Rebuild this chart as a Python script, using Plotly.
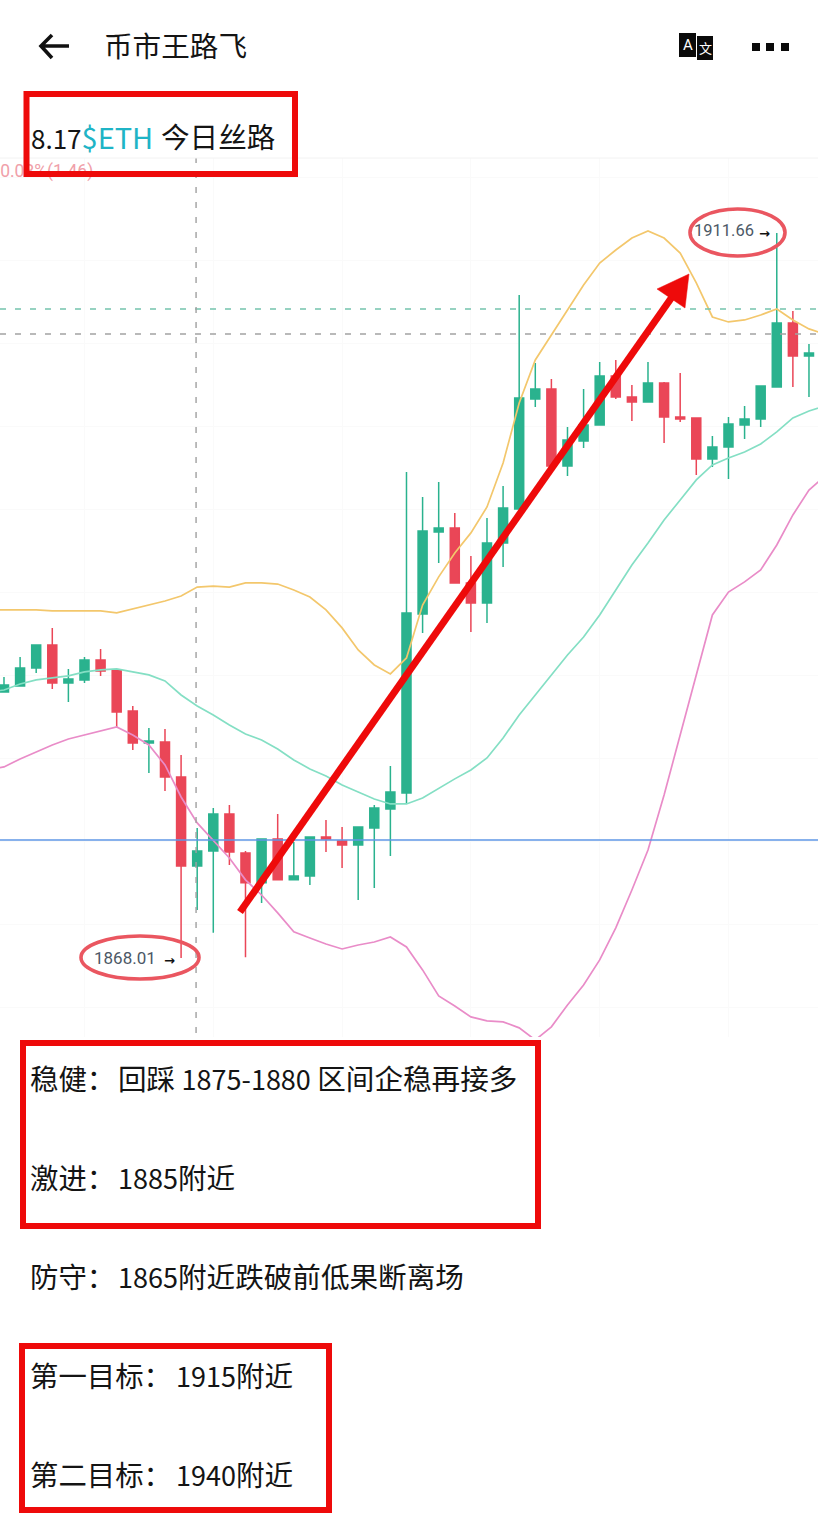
import re
import plotly.graph_objects as go

W, H = 828, 1525

# ---- data ----
opens = [1884.02,1884.38,1885.47,1886.85,1884.57,1884.75,1885.95,1885.35,1882.88,1880.95,1881.01,1878.91,1873.55,1874.45,1876.68,1874.33,1872.53,1875.17,1872.71,1872.95,1875.29,1875.05,1874.81,1875.84,1876.98,1877.94,1888.72,1893.66,1893.90,1890.59,1889.38,1892.99,1895.04,1901.66,1902.26,1897.63,1899.13,1900.10,1903.05,1901.78,1901.48,1902.63,1900.58,1900.52,1898.05,1898.77,1900.10,1900.46,1902.38,1906.24,1904.25]
closes = [1884.44,1885.47,1886.85,1884.57,1884.81,1885.95,1885.29,1882.82,1880.95,1881.07,1878.91,1873.55,1874.45,1876.68,1874.39,1872.53,1875.17,1872.71,1872.95,1875.29,1875.17,1874.81,1875.90,1877.04,1878.00,1888.78,1893.72,1893.90,1890.59,1889.38,1892.99,1895.10,1901.72,1902.26,1897.63,1899.19,1900.10,1903.05,1901.78,1901.48,1902.63,1900.58,1900.46,1898.05,1898.77,1900.16,1900.46,1902.44,1906.24,1904.25,1904.43]
highs = [1884.93,1886.13,1886.85,1887.88,1885.41,1886.13,1886.61,1885.35,1883.18,1881.86,1881.80,1880.23,1875.84,1877.04,1877.22,1874.45,1875.17,1876.68,1874.99,1875.29,1876.32,1875.90,1875.90,1877.22,1879.57,1897.27,1895.76,1896.67,1894.80,1892.21,1894.50,1896.42,1907.92,1903.83,1902.87,1899.98,1902.26,1903.89,1904.01,1902.50,1903.89,1902.69,1903.23,1900.52,1899.43,1900.58,1901.24,1902.44,1911.66,1906.96,1904.97]
lows = [1884.02,1884.38,1885.17,1884.20,1883.42,1884.57,1884.99,1881.92,1880.53,1879.15,1878.06,1868.01,1870.90,1869.52,1873.61,1868.05,1871.32,1872.71,1872.71,1872.40,1874.39,1873.43,1871.50,1872.22,1874.15,1877.34,1887.58,1891.79,1890.59,1887.64,1888.18,1891.55,1895.04,1901.18,1897.63,1897.03,1898.71,1900.10,1901.66,1900.34,1901.48,1899.01,1900.28,1897.09,1897.57,1896.85,1899.25,1899.98,1902.38,1902.38,1901.78]
candle_index = list(range(len(opens)))

band_index = list(range(-1, 52))
band_upper = [1888.96,1888.96,1888.96,1888.96,1888.90,1888.90,1888.90,1888.90,1888.78,1889.02,1889.26,1889.50,1889.80,1890.34,1890.40,1890.34,1890.59,1890.59,1890.52,1890.16,1889.74,1888.96,1887.88,1886.55,1885.65,1885.11,1886.07,1889.26,1890.95,1892.39,1893.60,1895.16,1897.81,1901.42,1904.01,1905.51,1907.08,1908.52,1909.85,1910.63,1911.35,1911.78,1911.35,1910.45,1908.65,1906.60,1906.30,1906.42,1906.72,1907.08,1906.42,1905.88,1905.57]
band_middle = [1884.02,1884.14,1884.50,1884.75,1884.87,1884.99,1885.23,1885.35,1885.41,1885.23,1885.05,1884.69,1883.84,1883.18,1882.64,1882.04,1881.49,1881.13,1880.59,1879.93,1879.39,1878.97,1878.42,1878.00,1877.58,1877.28,1877.28,1877.64,1878.24,1878.79,1879.33,1880.05,1881.25,1882.64,1883.84,1885.05,1886.25,1887.33,1888.66,1890.16,1891.67,1892.99,1894.38,1895.58,1896.79,1897.69,1898.11,1898.47,1898.95,1899.68,1900.52,1900.94,1901.24]
band_lower = [1879.33,1879.51,1879.99,1880.41,1880.83,1881.19,1881.43,1881.68,1881.92,1881.43,1880.83,1879.63,1877.70,1876.14,1875.11,1874.03,1872.71,1871.80,1870.72,1869.58,1869.21,1868.85,1868.55,1868.79,1868.97,1869.27,1868.67,1867.29,1865.72,1865.12,1864.46,1864.22,1864.16,1863.80,1863.07,1863.86,1865.18,1866.38,1867.89,1869.82,1872.10,1874.51,1877.82,1881.43,1885.05,1888.66,1890.04,1890.65,1891.37,1892.87,1894.68,1896.18,1897.03]

price_blue = 1875.11
price_green_dash = 1907.08
price_gray_dash = 1905.57
cursor_index = 11.93
low_label = "1868.01"
high_label = "1911.66"
change_label = "0.08%(1.46)"

GREEN, RED = "#2ab28e", "#ea4657"
BOX_RED = "#ee0a0a"
CJK = "Noto Sans CJK SC"

def px(x): return x / W
def py(y): return 1 - y / H

fig = go.Figure()

fig.add_trace(go.Candlestick(
    x=candle_index, open=opens, high=highs, low=lows, close=closes,
    whiskerwidth=0,
    increasing=dict(line=dict(color=GREEN, width=1.5), fillcolor=GREEN),
    decreasing=dict(line=dict(color=RED, width=1.5), fillcolor=RED),
    showlegend=False, hoverinfo="skip",
))
for vals, col in [(band_upper, "#f3c76c"), (band_middle, "#84dfc4"), (band_lower, "#e98cc8")]:
    fig.add_trace(go.Scatter(x=band_index, y=vals, mode="lines",
                             line=dict(color=col, width=1.7), showlegend=False, hoverinfo="skip"))
fig.add_trace(go.Scatter(x=[-0.24], y=[1915.27], mode="text", text=[change_label],
                         textposition="middle right",
                         textfont=dict(family="Roboto", size=17.5, color="#f0a0a9"),
                         showlegend=False, hoverinfo="skip"))

shapes = []
# price lines and cursor
shapes.append(dict(type="line", xref="paper", x0=0, x1=px(818), yref="y", y0=price_blue, y1=price_blue,
                   line=dict(color="#5f97e6", width=1.4)))
shapes.append(dict(type="line", xref="paper", x0=0, x1=px(818), yref="y", y0=price_green_dash, y1=price_green_dash,
                   line=dict(color="#74c3ad", width=1.4, dash="6px,9px")))
shapes.append(dict(type="line", xref="paper", x0=0, x1=px(818), yref="y", y0=price_gray_dash, y1=price_gray_dash,
                   line=dict(color="#a3a3a3", width=1.4, dash="6px,9px")))
shapes.append(dict(type="line", xref="x", x0=cursor_index, x1=cursor_index, yref="paper", y0=py(1033), y1=py(158),
                   line=dict(color="#a0a0a0", width=1.4, dash="6px,9px")))
shapes.append(dict(type="line", xref="paper", x0=0, x1=px(818), yref="paper", y0=py(158), y1=py(158),
                   line=dict(color="#f2f2f2", width=1)))

# red annotation boxes
for x0, y0, x1, y1 in [(26.5, 94, 295, 174), (23, 1043, 538, 1226), (22, 1346, 329, 1510)]:
    shapes.append(dict(type="rect", xref="paper", yref="paper", x0=px(x0), x1=px(x1), y0=py(y0), y1=py(y1),
                       line=dict(color=BOX_RED, width=6)))
# ellipses
for x0, y0, x1, y1 in [(690, 209, 785, 256), (81, 936, 199, 979)]:
    shapes.append(dict(type="circle", xref="paper", yref="paper", x0=px(x0), x1=px(x1), y0=py(y0), y1=py(y1),
                       line=dict(color="#ea5660", width=3.6)))
# big red arrow
shapes.append(dict(type="line", xref="paper", yref="paper", x0=px(240), y0=py(912), x1=px(672), y1=py(297),
                   line=dict(color=BOX_RED, width=7)))
def poly(points):
    return "M" + " L".join(f"{px(a):.5f},{py(b):.5f}" for a, b in points) + " Z"
shapes.append(dict(type="path", xref="paper", yref="paper", path=poly([(689, 274), (657, 289), (685, 308)]),
                   fillcolor=BOX_RED, line=dict(color=BOX_RED, width=0.5)))
# header icons
shapes.append(dict(type="path", xref="paper", yref="paper",
                   path=f"M{px(69):.5f},{py(46):.5f} L{px(41):.5f},{py(46):.5f} M{px(52):.5f},{py(35):.5f} L{px(41):.5f},{py(46):.5f} L{px(52):.5f},{py(58):.5f}",
                   line=dict(color="#111111", width=3.6)))
for x0, y0, x1, y1 in [(679, 33, 696, 57), (697, 36, 713, 60), (752, 43, 760, 51), (766, 43, 774, 51), (781, 43, 789, 51)]:
    shapes.append(dict(type="rect", xref="paper", yref="paper", x0=px(x0), x1=px(x1), y0=py(y0), y1=py(y1),
                       fillcolor="#0a0a0a", line=dict(width=0)))

annotations = []
def text(x, y, s, size=28, color="#141414", family=CJK, anchor="left"):
    annotations.append(dict(xref="paper", yref="paper", x=px(x), y=py(y), text=s, showarrow=False,
                            xanchor=anchor, yanchor="middle", align="left", borderpad=0, borderwidth=0,
                            font=dict(family=family, size=size, color=color)))

def digits(s, size=26):
    return re.sub(r"([0-9][0-9\-]*)", lambda m: f'<span style="font-size:{size}px">{m.group(1)}</span>', s)

text(104, 45, "币市王路飞", size=28.6)
text(687.5, 44.5, "A", size=15, color="#ffffff", family="Roboto", anchor="center")
text(705.5, 48, "文", size=13, color="#ffffff", anchor="center")
text(31, 136, '<span style="font-size:26px">8.17</span><span style="color:#1fb4c6;font-size:29px">$ETH</span> ', size=28.6)
text(161, 136, "今日丝路", size=28.6)

text(694, 231, high_label, size=16.5, color="#4c5866", family="Roboto")
text(759, 233, "<b>→</b>", size=13, color="#111111", family="DejaVu Sans")
text(94, 958, low_label, size=17, color="#4c5866", family="Roboto")
text(164, 960, "<b>→</b>", size=13, color="#111111", family="DejaVu Sans")

lines = [
    (1077, "稳健：", 118, "回踩 1875-1880 区间企稳再接多"),
    (1176, "激进：", 118, "1885附近"),
    (1275, "防守：", 118, "1865附近跌破前低果断离场"),
    (1374, "第一目标：", 176, "1915附近"),
    (1473, "第二目标：", 176, "1940附近"),
]
for y, label, x2, rest in lines:
    text(30, y, label, size=28.4)
    text(x2, y, digits(rest, 27), size=28.6)

fig.update_layout(
    width=W, height=H, margin=dict(l=0, r=0, t=0, b=0), boxgap=0.2,
    paper_bgcolor="white", plot_bgcolor="white", showlegend=False,
    shapes=shapes, annotations=annotations,
    xaxis=dict(domain=[0, 818 / W], range=[-0.248, 50.56], tick0=5, dtick=8,
               showgrid=True, gridcolor="#fafafa", gridwidth=1, zeroline=False,
               showticklabels=False, ticks="", showline=False, rangeslider=dict(visible=False)),
    yaxis=dict(domain=[py(1037), py(158)], range=[1863.25, 1916.17], tick0=1865, dtick=5,
               showgrid=True, gridcolor="#fafafa", gridwidth=1, zeroline=False,
               showticklabels=False, ticks="", showline=False),
)

fig.write_html("out.html", post_script="document.body.style.margin='0';",
               config={"displayModeBar": False})
